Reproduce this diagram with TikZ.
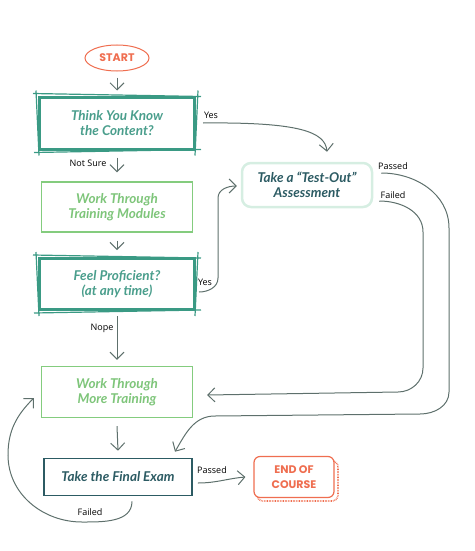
\documentclass[tikz,border=0pt]{standalone}
\usepackage{fontspec}
\setmainfont{Lato}
\newfontfamily\labelfont{Open Sans}
\newfontfamily\capsfont{Poppins}
\usetikzlibrary{arrows.meta,shapes.geometric}
\definecolor{tealA}{HTML}{3A9A84}
\definecolor{tealtext}{HTML}{4A9E8C}
\definecolor{lgreen}{HTML}{84CC7E}
\definecolor{lgreentext}{HTML}{7EC57A}
\definecolor{mint}{HTML}{D6EEE2}
\definecolor{darkteal}{HTML}{2C5B63}
\definecolor{orangeA}{HTML}{EF6E50}
\definecolor{arrowgray}{HTML}{5E706C}
\newcommand\sketchedges[1]{%
  \draw[tealA, line width=1.2pt]
    ([shift={(-5,-2)}]#1.north west) -- ([shift={(5,1)}]#1.north east)
    ([shift={(-4,2)}]#1.south west) -- ([shift={(5,-1)}]#1.south east)
    ([shift={(-2,-5)}]#1.north west) -- ([shift={(1,5)}]#1.south west)
    ([shift={(2,-5)}]#1.north east) -- ([shift={(-1,5)}]#1.south east);
}
\begin{document}
\begin{tikzpicture}[x=1pt,y=-1pt,
  boxtext/.style={font=\fontsize{13.5}{15}\selectfont\bfseries\itshape, align=center},
  thickbox/.style={boxtext, draw=tealA, line width=3pt, text=tealtext, minimum width=155pt, minimum height=52pt, inner sep=0pt},
  lightbox/.style={boxtext, draw=lgreen, line width=1.3pt, text=lgreentext, minimum width=151pt, minimum height=50pt, inner sep=0pt},
  conn/.style={draw=arrowgray, line width=1pt, -{Straight Barb[length=7pt,width=14pt,line width=1pt]}},
  lbl/.style={font=\labelfont\fontsize{9}{10}\selectfont, text=black, inner sep=0pt},
  capstext/.style={font=\capsfont\fontsize{11}{15}\selectfont\bfseries, text=orangeA, align=center}
]
\useasboundingbox (0,0) rectangle (474,551);

% nodes
\node[ellipse, draw=orangeA, line width=1pt, minimum width=64pt, minimum height=26pt, inner sep=0pt, capstext] (start) at (117,58) {START};
\node[thickbox] (think) at (117,123) {Think You Know\\the Content?};
\node[lightbox] (modules) at (117,207) {Work Through\\Training Modules};
\node[thickbox, minimum height=51pt] (feel) at (117,284) {Feel Proficient?\\(at any time)};
\node[boxtext, draw=mint, line width=2.5pt, rounded corners=9pt, text=darkteal, minimum width=130pt, minimum height=44pt, inner sep=0pt] (test) at (307,185) {Take a “Test-Out”\\Assessment};
\node[lightbox, minimum height=51pt] (more) at (117,392) {Work Through\\More Training};
\node[boxtext, draw=darkteal, line width=1.6pt, text=darkteal, minimum width=148pt, minimum height=37pt, inner sep=0pt] (final) at (118,477) {Take the Final Exam};
\draw[orangeA, line width=1.6pt, dash pattern=on 0.7pt off 0.9pt, rounded corners=6pt] (257,461) rectangle (338,501);
\node[draw=orangeA, fill=white, line width=1.2pt, rounded corners=6pt, minimum width=80pt, minimum height=41pt, inner sep=0pt, capstext] (end) at (294,477) {END OF\\COURSE};

\sketchedges{think}
\sketchedges{feel}

% labels
\node[lbl] (lyes1) at (211,115) {Yes};
\node[lbl] (lnotsure) at (88,163) {Not Sure};
\node[lbl] (lyes2) at (205,282) {Yes};
\node[lbl] (lnope) at (102,328) {Nope};
\node[lbl] (lpassed1) at (393,166) {Passed};
\node[lbl] (lfailed1) at (393,195) {Failed};
\node[lbl] (lpassed2) at (212,470) {Passed};
\node[lbl] (lfailed2) at (90,512) {Failed};

% connectors
\draw[conn] ([yshift=-6pt]start.south) -- ([yshift=5pt]think.north);
\draw[conn] ([yshift=-7pt]think.south) -- ([yshift=9pt]modules.north);
\draw[conn] ([yshift=-8pt]modules.south) -- ([yshift=7pt]feel.north);
\draw[conn] ([yshift=-5pt]feel.south) -- ([yshift=6pt]more.north);
\draw[conn] ([yshift=-8pt]more.south) -- ([yshift=7pt]final.north);
\draw[conn] ([xshift=7pt]think.east) .. controls (300,122) and (325,132) .. ([shift={(20,-10)}]test.north);
\draw[conn] ([shift={(3,8)}]feel.east) to[out=0,in=-90] (218,278) -- (218,198) to[out=90,in=180] ([shift={(-4,1)}]test.west);
\draw[conn] ([shift={(8,-12)}]test.east) to[out=0,in=90] (449,228) -- (449,392) to[out=-90,in=0] (420,414) -- (215,416) to[out=180,in=60] ([shift={(57,-6)}]final.north);
\draw[conn] ([shift={(6,16)}]test.east) to[out=0,in=90] (423,232) -- (423,368) to[out=-90,in=0] (398,392) -- ([shift={(14,3)}]more.east);
\draw[conn] ([shift={(5,6)}]final.east) to[out=0,in=185] ([xshift=-8pt]end.west);
\draw[conn] ([shift={(14,5)}]final.south) to[out=-90,in=0] (82,522) to[out=180,in=-90] (8,455) to[out=90,in=225] ([shift={(-7,6)}]more.west);
\end{tikzpicture}
\end{document}
